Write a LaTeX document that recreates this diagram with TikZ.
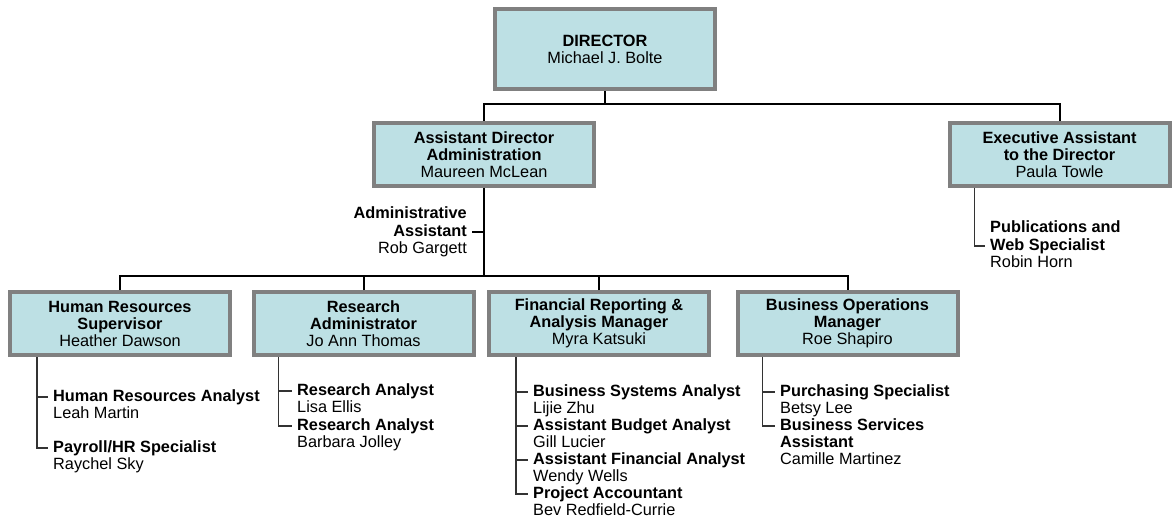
\documentclass[tikz,border=0pt]{standalone}
\usepackage{fontspec}
\setmainfont{Liberation Sans}
\usetikzlibrary{positioning}
\definecolor{boxblue}{RGB}{189,224,228}
\definecolor{boxrim}{RGB}{128,128,128}
\tikzset{
  box/.style={draw=boxrim, line width=4pt, fill=boxblue, minimum width=220pt, minimum height=63pt,
    align=center, font=\fontsize{16.3}{17}\selectfont},
  link/.style={line width=2pt},
  sub/.style={line width=1.1pt, black!80},
  role/.style={inner xsep=5pt, inner ysep=0.5pt, text height=12pt, text depth=4pt,
    font=\fontsize{16.3}{17}\selectfont\bfseries, anchor=west},
  who/.style={role, font=\fontsize{16.3}{17}\selectfont, anchor=north west}
}

\begin{document}
\begin{tikzpicture}[x=1pt, y=-1pt]
        \useasboundingbox (0,0) rectangle (1173,525);
        \path (605,49) node[box, minimum height=80pt] (dir) {\textbf{DIRECTOR}\\Michael J. Bolte}
          (484,154.5) node[box] (ad) {\textbf{Assistant Director}\\\textbf{Administration}\\Maureen McLean}
          (1059.5,154.5) node[box] (ea) {\textbf{Executive Assistant}\\\textbf{to the Director}\\Paula Towle}
          (120,323.5) node[box] (hr) {\textbf{Human Resources}\\\textbf{Supervisor}\\Heather Dawson}
          (363.5,323.5) node[box] (ra) {\textbf{Research}\\\textbf{Administrator}\\Jo Ann Thomas}
          (599,323.5) node[box] (fr) {\textbf{Financial Reporting \&}\\\textbf{Analysis Manager}\\Myra Katsuki}
          (847.5,323.5) node[box] (bo) {\textbf{Business Operations}\\\textbf{Manager}\\Roe Shapiro};
        \coordinate (top) at (605,104);
        \coordinate (mid) at (484,276);

        \draw[link] (dir) -- (top);
        \draw[link] (ad.north) |- (top) -| (ea.north);
        \draw[link] (ad) -- (mid);
        \draw[link] (hr.north) |- (mid) -| (bo.north);
        \draw[link] (ra.north) |- (mid);
        \draw[link] (fr.north) |- (mid);

        % administrative assistant
        \node[role, anchor=east] (aa) at (472,232) {Assistant};
        \node[role, anchor=south east] (aat) at (aa.north east) {Administrative};
        \node[who, anchor=north east] (aan) at (aa.south east) {Rob Gargett};
        \draw[link, line width=1.5pt] (aa.east) -- (aa.east -| ad.south);

        % executive assistant
        \coordinate (eal) at ([xshift=27pt]ea.south west);
        \node[role] (pub) at (985,246) {Web Specialist};
        \node[role, anchor=south west] (pubt) at (pub.north west) {Publications and};
        \node[who] (pubn) at (pub.south west) {Robin Horn};
        \draw[sub] (eal) |- (pub.west);

        % human resources
        \coordinate (hrl) at ([xshift=29pt]hr.south west);
        \node[role] (hra) at (48,397) {Human Resources Analyst};
        \node[who] (hran) at (hra.south west) {Leah Martin};
        \node[role] (hrb) at (48,448) {Payroll/HR Specialist};
        \node[who] (hrbn) at (hrb.south west) {Raychel Sky};
        \draw[sub] (hrl) |- (hrb.west);
        \draw[sub] (hrl |- hra.west) -- (hra.west);

        % research
        \coordinate (ral) at ([xshift=27pt]ra.south west);
        \node[role] (raa) at (292,391) {Research Analyst};
        \node[who] (raan) at (raa.south west) {Lisa Ellis};
        \node[role] (rab) at (292,426) {Research Analyst};
        \node[who] (rabn) at (rab.south west) {Barbara Jolley};
        \draw[sub] (ral) |- (rab.west);
        \draw[sub] (ral |- raa.west) -- (raa.west);

        % financial reporting
        \coordinate (frl) at ([xshift=29pt]fr.south west);
        \node[role] (fra) at (528,392) {Business Systems Analyst};
        \node[who] (fran) at (fra.south west) {Lijie Zhu};
        \node[role] (frb) at (528,426) {Assistant Budget Analyst};
        \node[who] (frbn) at (frb.south west) {Gill Lucier};
        \node[role] (frc) at (528,460) {Assistant Financial Analyst};
        \node[who] (frcn) at (frc.south west) {Wendy Wells};
        \node[role] (frd) at (528,494) {Project Accountant};
        \node[who] (frdn) at (frd.south west) {Bev Redfield-Currie};
        \draw[sub] (frl) |- (frd.west);
        \draw[sub] (frl |- fra.west) -- (fra.west);
        \draw[sub] (frl |- frb.west) -- (frb.west);
        \draw[sub] (frl |- frc.west) -- (frc.west);

        % business operations
        \coordinate (bol) at ([xshift=27pt]bo.south west);
        \node[role] (boa) at (775,392) {Purchasing Specialist};
        \node[who] (boan) at (boa.south west) {Betsy Lee};
        \node[role] (bob) at (775,426) {Business Services};
        \node[role, anchor=north west] (bobt) at (bob.south west) {Assistant};
        \node[who] (bobn) at (bobt.south west) {Camille Martinez};
        \draw[sub] (bol) |- (bob.west);
        \draw[sub] (bol |- boa.west) -- (boa.west);
\end{tikzpicture}
\end{document}
